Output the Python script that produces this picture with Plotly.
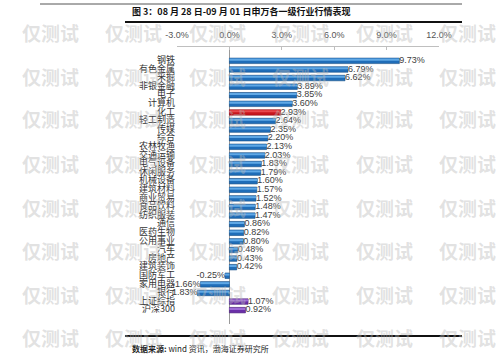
import plotly.graph_objects as go

categories = ["钢铁", "有色金属", "采掘", "非银金融", "电子", "计算机", "化工", "轻工制造", "传媒", "综合",
              "农林牧渔", "交通运输", "电气设备", "休闲服务", "机械设备", "建筑材料", "商业贸易", "食品饮料",
              "纺织服装", "通信", "医药生物", "公用事业", "汽车", "房地产", "建筑装饰", "国防军工", "家用电器",
              "银行", "上证综指", "沪深300"]
values = [9.73, 6.79, 6.62, 3.89, 3.85, 3.60, 2.93, 2.64, 2.35, 2.20,
          2.13, 2.03, 1.83, 1.79, 1.60, 1.57, 1.52, 1.48, 1.47, 0.86,
          0.82, 0.80, 0.48, 0.43, 0.42, -0.25, -1.66, -1.83, 1.07, 0.92]
tick_vals = [-3, 0, 3, 6, 9, 12]
tick_text = ["-3.0%", "0.0%", "3.0%", "6.0%", "9.0%", "12.0%"]

W, H = 499, 359
L, R, T, B = 177, 60, 47, 35
PW, PH = W - L - R, H - T - B
X_MIN, X_MAX = -3, 12


def px(x):
    return (x - L) / PW


def py(y):
    return 1 - (y - T) / PH


base_col, hi_col, line_col = [], [], []
for c in categories:
    if c == "化工":
        base_col.append("#C8161D"); hi_col.append("#E8474C"); line_col.append("#8E0E12")
    elif c in ("上证综指", "沪深300"):
        base_col.append("#6A2FA8"); hi_col.append("#9E6BD6"); line_col.append("#4A1F78")
    else:
        base_col.append("#1F6DB8"); hi_col.append("#5FA8E6"); line_col.append("#154D85")

fig = go.Figure()
fig.add_trace(go.Bar(x=values, y=categories, orientation="h", width=0.64,
                     marker=dict(color=base_col, line=dict(color=line_col, width=0.6)),
                     hoverinfo="skip"))
fig.add_trace(go.Bar(x=values, y=categories, orientation="h", width=0.24, offset=-0.26,
                     marker=dict(color=hi_col, line=dict(width=0)), hoverinfo="skip"))

labels = ["%.2f%%" % v for v in values]
pos = ["middle right" if v >= 0 else "middle left" for v in values]
fig.add_trace(go.Scatter(x=values, y=categories, mode="text", text=labels, textposition=pos,
                         textfont=dict(family="Liberation Sans, Arial", size=9, color="#404040"),
                         cliponaxis=False, hoverinfo="skip"))

# category labels drawn as text at the left edge of the value axis
fig.add_trace(go.Scatter(x=[X_MIN] * len(categories), y=categories, mode="text",
                         text=[c + " " for c in categories], textposition="middle left",
                         textfont=dict(family="Noto Sans CJK SC", size=9, color="#333333"),
                         cliponaxis=False, hoverinfo="skip"))

fig.update_layout(
    width=W, height=H, margin=dict(l=L, r=R, t=T, b=B, autoexpand=False),
    paper_bgcolor="white", plot_bgcolor="white", showlegend=False,
    barmode="overlay",
    xaxis=dict(range=[X_MIN, X_MAX], side="top", tickvals=tick_vals, ticktext=tick_text,
               showgrid=False, zeroline=True, zerolinecolor="#9a9a9a", zerolinewidth=1,
               showline=True, linecolor="#bfbfbf", linewidth=1,
               ticks="inside", ticklen=3, tickcolor="#bfbfbf", ticklabelstandoff=4,
               tickfont=dict(family="Liberation Sans, Arial", size=9, color="#555555"), fixedrange=True),
    yaxis=dict(autorange="reversed", showgrid=False, showline=False, ticks="",
               showticklabels=False, fixedrange=True),
)

shapes = [
    dict(type="line", xref="paper", yref="paper", x0=px(40), x1=px(462), y0=py(4), y1=py(4),
         line=dict(color="#555555", width=1)),
    dict(type="line", xref="paper", yref="paper", x0=px(125), x1=px(462), y0=py(22), y1=py(22),
         line=dict(color="#111111", width=1.8)),
    dict(type="line", xref="paper", yref="paper", x0=px(125), x1=px(462), y0=py(336), y1=py(336),
         line=dict(color="#111111", width=1.8)),
]
fig.update_layout(shapes=shapes)

ann = [
    dict(text="<b>图 3：08 月 28 日-09 月 01 日申万各一级行业行情表现</b>", x=px(130), y=py(12),
         xref="paper", yref="paper", xanchor="left", yanchor="middle", showarrow=False,
         font=dict(family="Noto Sans CJK SC", size=9, color="#111111")),
    dict(text="<b>数据来源:</b> wind 资讯，渤海证券研究所", x=px(130), y=py(348),
         xref="paper", yref="paper", xanchor="left", yanchor="middle", showarrow=False,
         font=dict(family="Noto Sans CJK SC", size=8, color="#222222")),
]
for wy in [33, 76, 119, 163, 207, 250, 294, 337]:
    for wx in [50, 133, 217, 300, 384, 467]:
        ann.append(dict(text="<b>仅测试</b>", x=px(wx), y=py(wy), xref="paper", yref="paper",
                        xanchor="center", yanchor="middle", showarrow=False,
                        font=dict(family="Noto Sans CJK SC", size=19, color="rgba(185,185,185,0.42)")))
fig.update_layout(annotations=ann)

fig.write_html("out.html", config={"displayModeBar": False},
               post_script="document.body.style.margin='0';document.body.style.overflow='hidden';")
